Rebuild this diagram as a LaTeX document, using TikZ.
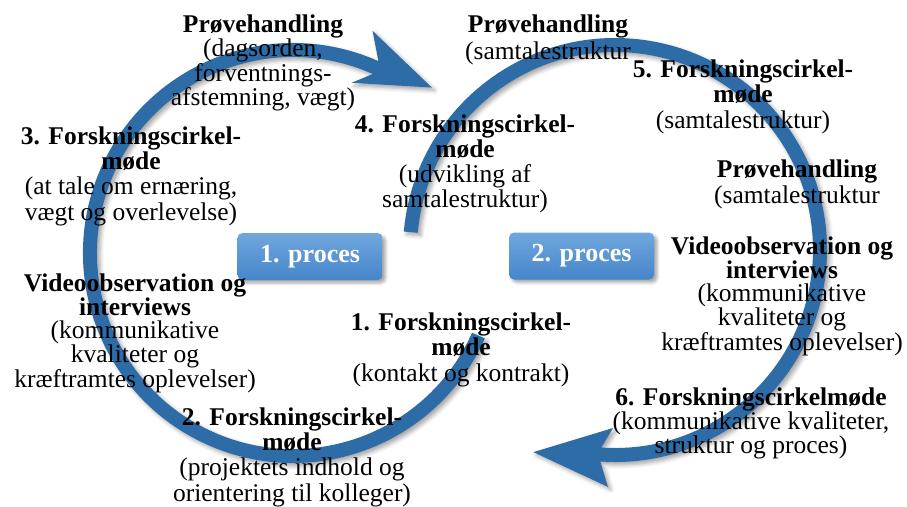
\documentclass[tikz,border=0pt]{standalone}
\usepackage{fontspec}
\setmainfont{Liberation Serif}
\usetikzlibrary{shadows.blur}
\definecolor{arrowblue}{RGB}{46,108,168}
\definecolor{boxtop}{RGB}{112,166,221}
\definecolor{boxbot}{RGB}{70,134,203}
\begin{document}
\begin{tikzpicture}[x=1pt,y=1pt,
  lbl/.style={anchor=base, align=center, inner sep=0pt, text=black,
              font={\fontsize{25.5}{#1}\selectfont}},
  circarrow/.style={fill=arrowblue,
     blur shadow={shadow xshift=3pt, shadow yshift=-3pt, shadow blur radius=4pt, shadow opacity=35}},
  procbox/.style={rounded corners=5pt, top color=boxtop, bottom color=boxbot,
     minimum width=145pt, minimum height=47pt, inner sep=0pt, text=white,
     font={\fontsize{26}{28}\selectfont\bfseries},
     blur shadow={shadow xshift=3pt, shadow yshift=-3pt, shadow blur radius=3pt, shadow opacity=35}}
]
\useasboundingbox (0,0) rectangle (907,-506);

% left circular arrow (1. proces)
\begin{scope}[shift={(293,-253)}]
  \path[circarrow] (-24:210) arc[start angle=-24, end angle=-294, radius=210]
     -- (70.3:236) -- (50:216) -- (71:180) -- (66:196)
     arc[start angle=-294, end angle=-24, radius=196] -- cycle;
\end{scope}

% right circular arrow (2. proces)
\begin{scope}[shift={(615,-250)}]
  \path[circarrow] (175:212) arc[start angle=175, end angle=-94, radius=212]
     -- (-91.7:237) -- (-112:218) -- (-90.6:178) -- (-94:198)
     arc[start angle=-94, end angle=175, radius=198] -- cycle;
\end{scope}

% process boxes
\node[procbox] (p1) at (310,-256.5) {1. proces};
\node[procbox] (p2) at (581.5,-256) {2. proces};

% labels (anchored at the baseline of their last line)
\node[lbl=22.5] (a) at (263,-105.5) {\textbf{Prøvehandling}\\(dagsorden,\\forventnings-\\afstemning, vægt)};
\node[lbl=25.3] (b) at (131,-220) {\textbf{3. Forskningscirkel-}\\\textbf{møde}\\(at tale om ernæring,\\vægt og overlevelse)};
\node[lbl=22.5] (c) at (135,-387) {\textbf{Videoobservation og}\\\textbf{interviews}\\(kommunikative\\kvaliteter og\\kræftramtes oplevelser)};
\node[lbl=25.3] (d) at (292,-501) {\textbf{2. Forskningscirkel-}\\\textbf{møde}\\(projektets indhold og\\orientering til kolleger)};
\node[lbl=25.8] (e) at (461,-381.6) {\textbf{1. Forskningscirkel-}\\\textbf{møde}\\(kontakt og kontrakt)};
\node[lbl=25.2] (f) at (465,-207.6) {\textbf{4. Forskningscirkel-}\\\textbf{møde}\\(udvikling af\\samtalestruktur)};
\node[lbl=27] (g) at (548,-59) {\textbf{Prøvehandling}\\(samtalestruktur};
\node[lbl=25.5] (h) at (743,-128) {\textbf{5. Forskningscirkel-}\\\textbf{møde}\\(samtalestruktur)};
\node[lbl=26.5] (i) at (797,-203.5) {\textbf{Prøvehandling}\\(samtalestruktur};
\node[lbl=23] (j) at (782,-350) {\textbf{Videoobservation og}\\\textbf{interviews}\\(kommunikative\\kvaliteter og\\kræftramtes oplevelser)};
\node[lbl=24] (k) at (751,-453) {\textbf{6. Forskningscirkelmøde}\\(kommunikative kvaliteter,\\struktur og proces)};
\end{tikzpicture}
\end{document}
